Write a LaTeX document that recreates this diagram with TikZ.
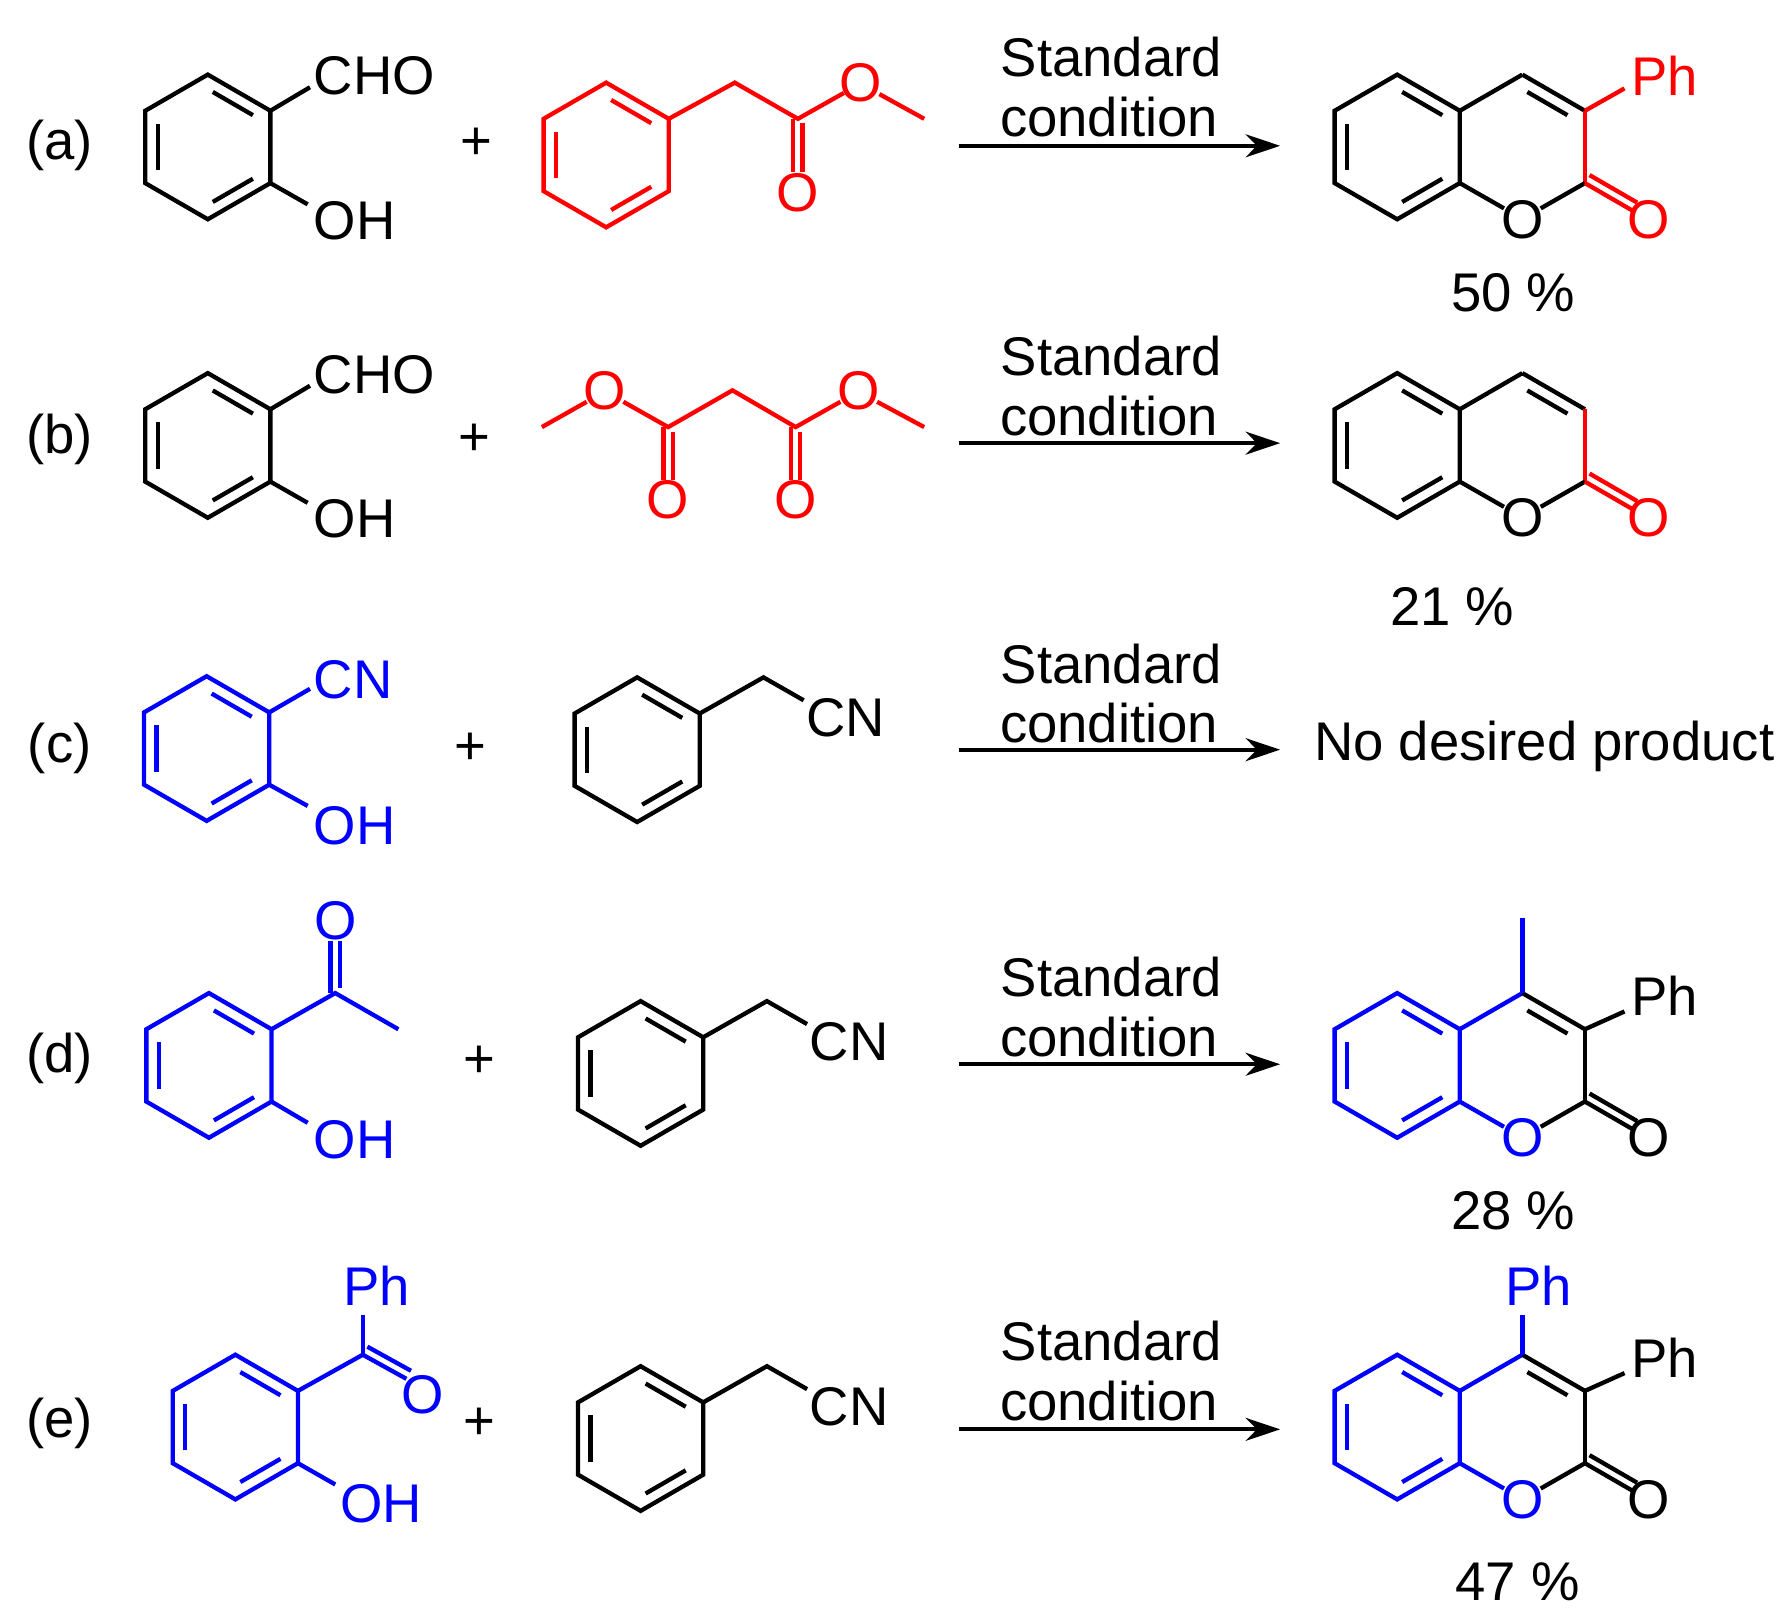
\documentclass[tikz,border=0pt]{standalone}
\usepackage{fontspec}
\setmainfont{Liberation Sans}
\usetikzlibrary{arrows.meta}
\definecolor{cred}{RGB}{255,0,0}
\definecolor{cblue}{RGB}{0,0,255}
\tikzset{
 x=0.2mm,y=-0.2mm,
 bond/.style={line width=0.75mm},
 inner/.style={line width=0.75mm,shorten <=1mm,shorten >=1mm},
 atom/.style={inner sep=0pt,font=\fontsize{27}{32}\selectfont},
 lbl/.style={inner sep=0pt,font=\fontsize{27}{32}\selectfont},
 rxn/.style={line width=0.7mm,-{Stealth[length=6mm,width=4mm]}},
}
\newcommand\benz[3]{%
 \begin{scope}[shift={(#1,#2)}]
 \draw[bond,#3] (0,-63)--(54.5,-31.5)--(54.5,31.5)--(0,63)--(-54.5,31.5)--(-54.5,-31.5)--cycle;
 \draw[inner,#3] (0,-50.4)--(43.6,-25.2);
 \draw[inner,#3] (43.6,25.2)--(0,50.4);
 \draw[inner,#3] (-43.6,25.2)--(-43.6,-25.2);
 \end{scope}}
% x y benz ringO C4=C3 C3-C2 O-C2 C=O Otext
\newcommand\coum[9]{%
 \benz{#1}{#2}{#3}
 \begin{scope}[shift={(#1,#2)}]
 \draw[bond,#3] (54.5,-31.5)--(109,-63);
 \draw[bond,#3] (54.5,31.5)--(93,53.5);
 \node[atom,text=#4] at (109,63) {O};
 \draw[bond,#5] (109,-63)--(163.5,-31.5);
 \draw[inner,#5] (109,-50.4)--(152.6,-25.2);
 \draw[bond,#6] (163.5,-31.5)--(163.5,31.5);
 \draw[bond,#7] (125,53.5)--(163.5,31.5);
 \draw[bond,#8] (163.5,31.5)--(205,55.5);
 \draw[bond,#8] (167.5,24.5)--(209,48.5);
 \node[atom,text=#9] at (219,63) {O};
 \end{scope}}
\newcommand\pan[3]{%
 \benz{#1}{#2}{#3}
 \begin{scope}[shift={(#1,#2)}]
 \draw[bond,#3] (54.5,-31.5)--(110,-63)--(145,-43);
 \node[atom,anchor=west,text=#3] at (147,-28) {CN};
 \end{scope}}
\begin{document}
\begin{tikzpicture}
\useasboundingbox (0,0) rectangle (1560,1411);
% labels
\node[lbl] (la) at (52,127) {(a)};
\node[lbl] (lb) at (52,383) {(b)};
\node[lbl] (lc) at (52,652) {(c)};
\node[lbl] (ld) at (52,922) {(d)};
\node[lbl] (le) at (52,1240) {(e)};
\foreach \n/\x/\y in {pa/415/125,pb/413/383,pc/410/652,pd/418/925,pe/418/1240}
 \node[lbl] (\n) at (\x,\y) {+};
% arrows
\foreach \r/\y/\s in {a/127/50,b/386/310,c/653/578,d/927/851,e/1245/1168}{
 \coordinate (s\r) at (835,\y);
 \coordinate (t\r) at (1115,\y);
 \draw[rxn] (s\r)--(t\r);
 \node[lbl] (st\r) at (968,\s) {Standard};
 \node[lbl] (co\r) at (966,\s+52) {condition};
}
% ---- row a
\benz{181}{128}{black}
\draw[bond] (235.5,96.5)--(270,76);
\node[atom,anchor=west] (cho1) at (273,66) {CHO};
\draw[bond] (235.5,159.5)--(268,178);
\node[atom,anchor=west] (oh1) at (273,192) {OH};
\benz{528}{135}{cred}
\draw[bond,cred] (582.5,103.5)--(640,72)--(695,103.5)--(735,81);
\draw[bond,cred] (691,103.5)--(691,150);
\draw[bond,cred] (699,107)--(699,150);
\node[atom,text=cred] (oa1) at (695,168) {O};
\node[atom,text=cred] (oa2) at (750,72) {O};
\draw[bond,cred] (766,82)--(805,103.5);
\coum{1217}{128}{black}{black}{black}{cred}{black}{cred}{cred}
\draw[bond,cred] (1380.5,96.5)--(1415,77);
\node[atom,text=cred] (pha) at (1450,66) {Ph};
\node[lbl] (ya) at (1318,255) {50 \%};
% ---- row b
\benz{181}{388}{black}
\draw[bond] (235.5,356.5)--(270,336);
\node[atom,anchor=west] (cho2) at (273,326) {CHO};
\draw[bond] (235.5,419.5)--(268,438);
\node[atom,anchor=west] (oh2) at (273,452) {OH};
\draw[bond,cred] (472,372)--(511,350);
\node[atom,text=cred] (ob1) at (527,340) {O};
\draw[bond,cred] (543,350)--(582,372)--(638,340)--(693,372)--(732,350);
\node[atom,text=cred] (ob2) at (748,340) {O};
\draw[bond,cred] (764,350)--(805,372);
\draw[bond,cred] (578,372)--(578,418);
\draw[bond,cred] (586,376)--(586,418);
\node[atom,text=cred] (ob3) at (582,435) {O};
\draw[bond,cred] (689,372)--(689,418);
\draw[bond,cred] (697,376)--(697,418);
\node[atom,text=cred] (ob4) at (693,435) {O};
\coum{1217}{388}{black}{black}{black}{cred}{black}{cred}{cred}
\node[lbl] (yb) at (1265,528) {21 \%};
% ---- row c
\benz{180}{652}{cblue}
\draw[bond,cblue] (234.5,620.5)--(270,600);
\node[atom,anchor=west,text=cblue] (cn1) at (273,592) {CN};
\draw[bond,cblue] (234.5,683.5)--(268,702);
\node[atom,anchor=west,text=cblue] (oh3) at (273,719) {OH};
\pan{555}{653}{black}
\node[lbl] (nd) at (1345,650) {No desired product};
% ---- row d
\benz{182}{928}{cblue}
\draw[bond,cblue] (236.5,896.5)--(292,865)--(347,896.5);
\draw[bond,cblue] (288,865)--(288,820);
\draw[bond,cblue] (296,861)--(296,820);
\node[atom,text=cblue] (od1) at (292,802) {O};
\draw[bond,cblue] (236.5,959.5)--(268,978);
\node[atom,anchor=west,text=cblue] (oh4) at (273,993) {OH};
\pan{558}{935}{black}
\coum{1217}{928}{cblue}{cblue}{black}{black}{black}{black}{black}
\draw[bond,cblue] (1326,865)--(1326,800);
\draw[bond] (1380.5,896.5)--(1415,881);
\node[atom] (phd) at (1450,867) {Ph};
\node[lbl] (yd) at (1318,1055) {28 \%};
% ---- row e
\benz{205}{1243}{cblue}
\draw[bond,cblue] (259.5,1211.5)--(316,1180);
\draw[bond,cblue] (316,1180)--(316,1145);
\node[atom,text=cblue] (phe1) at (328,1120) {Ph};
\draw[bond,cblue] (316,1180)--(354,1201);
\draw[bond,cblue] (320,1173)--(358,1194);
\node[atom,text=cblue] (oe1) at (368,1215) {O};
\draw[bond,cblue] (259.5,1274.5)--(292,1293);
\node[atom,anchor=west,text=cblue] (oh5) at (296,1310) {OH};
\pan{558}{1253}{black}
\coum{1217}{1243}{cblue}{cblue}{black}{black}{black}{black}{black}
\draw[bond,cblue] (1326,1180)--(1326,1145);
\node[atom,text=cblue] (phe2) at (1340,1120) {Ph};
\draw[bond] (1380.5,1211.5)--(1415,1196);
\node[atom] (phe3) at (1450,1183) {Ph};
\node[lbl] (ye) at (1322,1378) {47 \%};
\end{tikzpicture}
\end{document}
